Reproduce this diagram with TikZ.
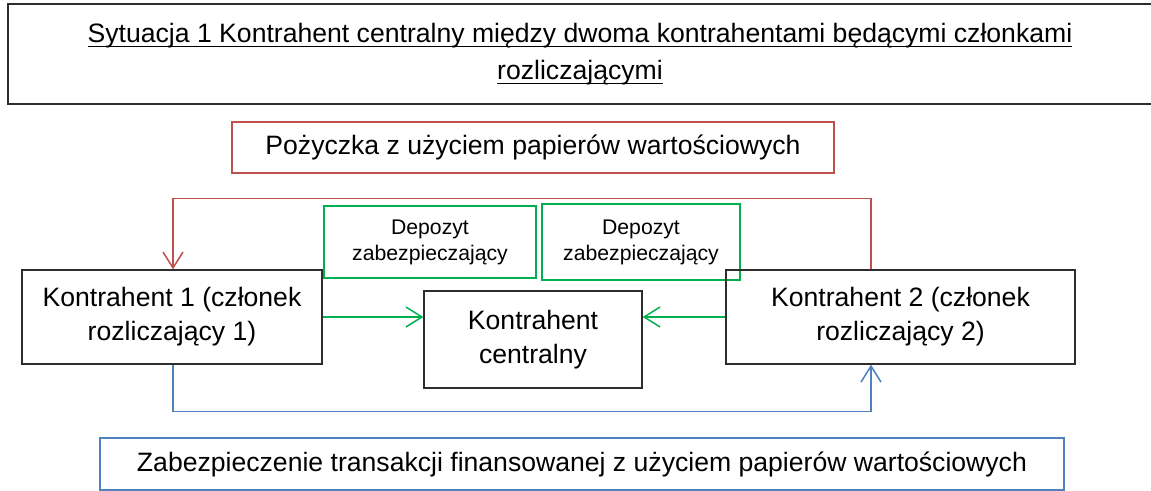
\documentclass[tikz,border=0pt]{standalone}
\usepackage{fontspec}
\setmainfont{Liberation Sans}
\usepackage{tikz}
\usetikzlibrary{arrows.meta, calc, positioning}

\definecolor{loanred}{RGB}{192,80,77}
\definecolor{margingreen}{RGB}{0,176,80}
\definecolor{collblue}{RGB}{79,129,189}
\definecolor{boxgray}{RGB}{45,45,45}

\newcommand{\undertext}[1]{\setbox0\hbox{#1}\rlap{\rule[-5pt]{\wd0}{1.4pt}}\box0}

\begin{document}
\begin{tikzpicture}[x=1pt, y=-1pt, >={Straight Barb[length=16pt,width=20pt]}]
    \tikzstyle{party} = [draw=boxgray, line width=1.3pt, inner sep=0pt, align=center,
	font=\fontsize{26.6}{34}\selectfont]
    \tikzstyle{deposit} = [draw=margingreen, line width=1.3pt, inner sep=0pt, align=center,
	font=\fontsize{21.2}{26}\selectfont]
    \tikzstyle{flow} = [->, line width=1.5pt]

    \useasboundingbox (0,0) rectangle (1151,490);

		\path
			node[party, font=\fontsize{26.6}{37}\selectfont, minimum width=1144pt, minimum height=100pt]
				(title) at (580,54)
				{\undertext{Sytuacja 1 Kontrahent centralny między dwoma kontrahentami będącymi członkami}\\
				 \undertext{rozliczającymi}}
			node[party, draw=loanred, minimum width=602pt, minimum height=51pt] (loan) at (533,147.5)
				{Pożyczka z użyciem papierów wartościowych}
			node[deposit, minimum width=212pt, minimum height=72pt] (dep1) at (430,242)
				{Depozyt\\zabezpieczający}
			node[deposit, minimum width=198pt, minimum height=76pt] (dep2) at (641,242)
				{Depozyt\\zabezpieczający}
			node[party, minimum width=300pt, minimum height=94pt] (k1) at (172,317)
				{Kontrahent 1 (członek\\rozliczający 1)}
			node[party, minimum width=218pt, minimum height=97pt] (ccp) at (533,339.5)
				{Kontrahent\\centralny}
			node[party, minimum width=349pt, minimum height=94pt] (k2) at (900.5,317)
				{Kontrahent 2 (członek\\rozliczający 2)}
			node[party, draw=collblue, minimum width=964pt, minimum height=52pt] (coll) at (582,464)
				{Zabezpieczenie transakcji finansowanej z użyciem papierów wartościowych}
		;

		% depozyty do kontrahenta centralnego
		\draw[flow, margingreen] (k1.east) -- (k1.east -| ccp.west);
		\draw[flow, margingreen] (k2.west) -- (k2.west -| ccp.east);

		% pozyczka i zabezpieczenie
		\draw[flow, loanred] ([xshift=-29.5pt]k2.north) -- ++(0,-71) -| ([xshift=1pt]k1.north);
		\draw[flow, collblue] ([xshift=1pt]k1.south) -- ++(0,47) -| ([xshift=-29.5pt]k2.south);

\end{tikzpicture}
\end{document}
